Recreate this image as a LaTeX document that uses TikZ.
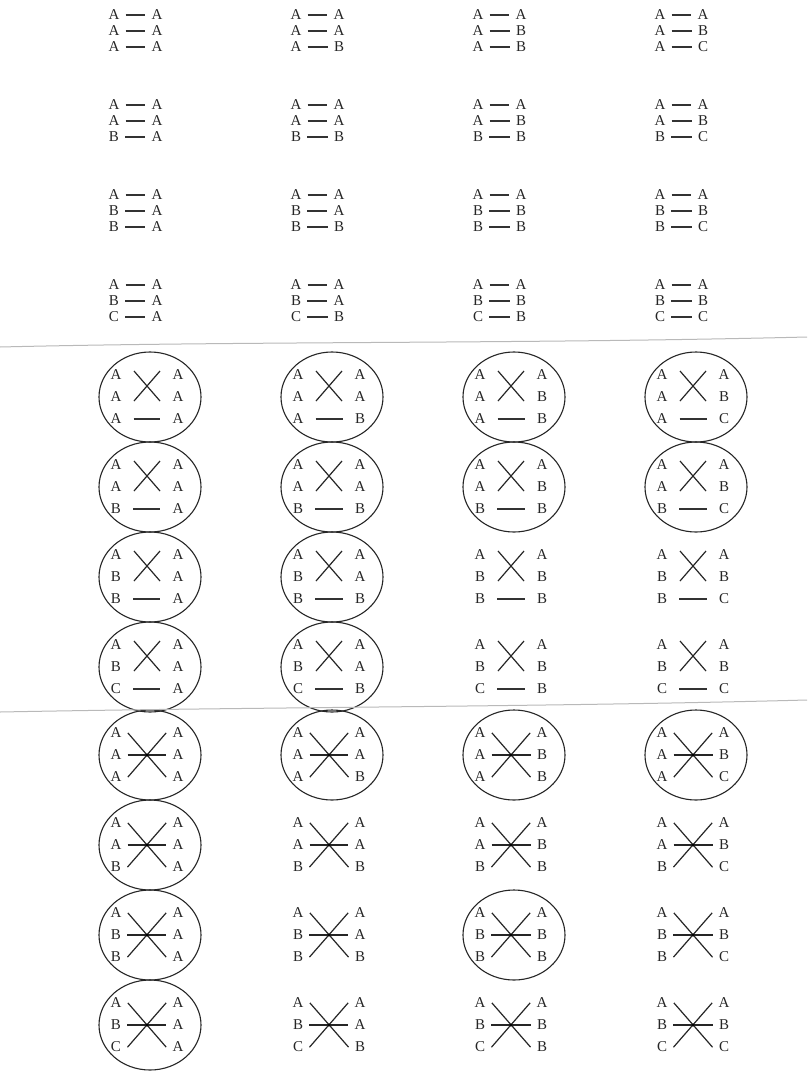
\documentclass[tikz,border=0pt]{standalone}
\usepackage{fontspec}
\setmainfont{Liberation Serif}
\usetikzlibrary{calc}

\begin{document}
\begin{tikzpicture}[x=1pt,y=-1pt,
  lbl/.style={font=\fontsize{15}{15}\selectfont, text=black!85, inner sep=1pt},
  bar/.style={line width=1.6pt, black!80, shorten <=5pt, shorten >=5pt},
  cross/.style={line width=1.2pt, black!85},
  star/.style={line width=1.2pt, black!85, shorten <=8pt, shorten >=8pt},
  ring/.style={line width=1.1pt, black!85}]
  \path[use as bounding box, fill=white] (0,0) rectangle (807,1074);
  % three blocks of 4 x 4 pairings
  \foreach \b/\yo/\dy/\xo/\w in {1/31/16/-5/43, 2/397/22/-3/62, 3/755/22/-3/62} {
    \foreach \r/\la/\lb/\lc in {1/A/A/A, 2/A/A/B, 3/A/B/B, 4/A/B/C} {
      \foreach \c/\x/\ra/\rb/\rc in {1/119/A/A/A, 2/301/A/A/B, 3/483/A/B/B, 4/665/A/B/C} {
        \pgfmathsetmacro\ym{\yo+90*(\r-1)}
        \pgfmathsetmacro\xl{\x+\xo}
        \node[lbl] (n\b\r\c-l1) at (\xl,\ym-\dy) {\la};
        \node[lbl] (n\b\r\c-l2) at (\xl,\ym) {\lb};
        \node[lbl] (n\b\r\c-l3) at (\xl,\ym+\dy) {\lc};
        \node[lbl] (n\b\r\c-r1) at (\xl+\w,\ym-\dy) {\ra};
        \node[lbl] (n\b\r\c-r2) at (\xl+\w,\ym) {\rb};
        \node[lbl] (n\b\r\c-r3) at (\xl+\w,\ym+\dy) {\rc};
        \ifnum\b=1
          \foreach \k in {1,2,3}
            \draw[bar] (n\b\r\c-l\k) -- (n\b\r\c-r\k);
        \fi
        \ifnum\b=2
          \draw[cross] ($(n\b\r\c-l1)+(18,-4)$) -- ($(n\b\r\c-r2)+(-18,4)$);
          \draw[cross] ($(n\b\r\c-l2)+(18,4)$) -- ($(n\b\r\c-r1)+(-18,-4)$);
          \draw[bar, shorten <=11pt, shorten >=11pt] (n\b\r\c-l3) -- (n\b\r\c-r3);
        \fi
        \ifnum\b=3
          \draw[star] (n\b\r\c-l1.north east) -- (n\b\r\c-r3.south west);
          \draw[star] (n\b\r\c-l3.south east) -- (n\b\r\c-r1.north west);
          \draw[star, shorten <=5pt, shorten >=5pt] (n\b\r\c-l2) -- (n\b\r\c-r2);
          \fill[black] ($(n\b\r\c-l2)!0.5!(n\b\r\c-r2)$) circle (1.6pt);
        \fi
      }
    }
  }
  % circled pairings
  \foreach \b/\r/\c in {2/1/1,2/1/2,2/1/3,2/1/4,2/2/1,2/2/2,2/2/3,2/2/4,2/3/1,2/3/2,2/4/1,2/4/2,
                        3/1/1,3/1/2,3/1/3,3/1/4,3/2/1,3/3/1,3/3/3,3/4/1}
    \draw[ring] ($(n\b\r\c-l2)!0.5!(n\b\r\c-r2)+(3,0)$) ellipse [x radius=51pt, y radius=45pt];
  % separating lines
  \draw[gray!55, line width=1pt] (0,347) .. controls (250,341) and (520,344) .. (807,337);
  \draw[gray!55, line width=1pt] (0,712) .. controls (260,707) and (540,707) .. (807,700);
\end{tikzpicture}
\end{document}
